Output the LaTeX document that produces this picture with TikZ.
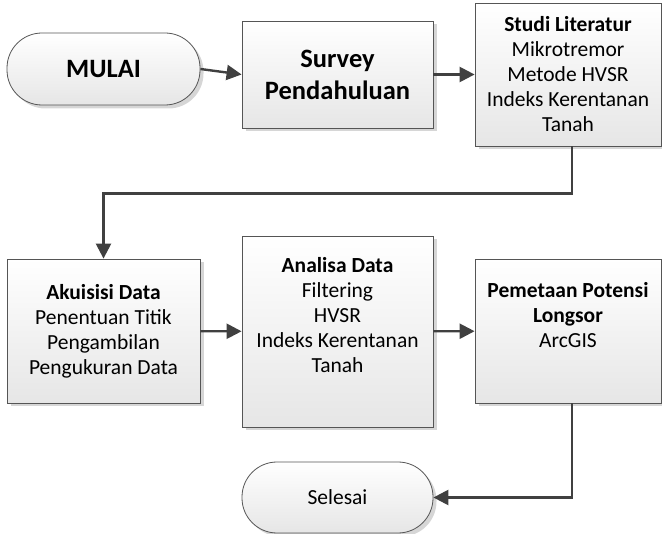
\documentclass[tikz,border=0pt]{standalone}
\usepackage{fontspec}
\setmainfont{Carlito}
\usetikzlibrary{shadows,arrows.meta}
\definecolor{boxline}{HTML}{555555}
\definecolor{boxbot}{HTML}{E6E6E6}
\definecolor{shadowc}{HTML}{D6D6D6}
\definecolor{connc}{HTML}{404040}
\begin{document}
\begin{tikzpicture}[x=1pt,y=-1pt,
  base/.style={draw=boxline, line width=0.8pt, top color=white, bottom color=boxbot,
    drop shadow={shadow xshift=3.5pt, shadow yshift=-3.5pt, fill=shadowc, opacity=1},
    align=center, inner sep=2pt, text=black, font=\fontsize{21.5}{25}\selectfont},
  box/.style={base, rectangle},
  term/.style={base, rectangle, rounded corners=35pt},
  big/.style={font=\fontsize{26.5}{32}\selectfont\bfseries},
  conn/.style={draw=connc, line width=2.4pt, -{Triangle[length=15pt,width=15pt]}}
]
\useasboundingbox (0,0) rectangle (662,534);

\node[term, big, minimum width=193pt, minimum height=72pt] (mulai) at (103.5,69) {MULAI};
\node[box, big, minimum width=191pt, minimum height=107pt] (survey) at (337.5,74.5) {Survey\\Pendahuluan};
\node[box, minimum width=186pt, minimum height=143pt] (studi) at (568,74.5)
  {\textbf{Studi Literatur}\\Mikrotremor\\Metode HVSR\\Indeks Kerentanan\\Tanah};
\node[box, minimum width=193pt, minimum height=144pt] (akuisisi) at (103.5,331)
  {\textbf{Akuisisi Data}\\Penentuan Titik\\Pengambilan\\Pengukuran Data};
\node[box, minimum width=191pt, minimum height=191pt] (analisa) at (337.5,331.5)
  {\textbf{Analisa Data}\\Filtering\\HVSR\\Indeks Kerentanan\\Tanah\\\strut};
\node[box, minimum width=186pt, minimum height=144pt] (pemetaan) at (568,331)
  {\textbf{Pemetaan Potensi}\\\textbf{Longsor}\\ArcGIS\\\strut};
\node[term, minimum width=191pt, minimum height=71pt] (selesai) at (337.5,497.5) {Selesai};

\draw[conn] (mulai.east) -- (survey.west);
\draw[conn] (survey) -- (studi);
\draw[conn] ([xshift=4pt]studi.south) -- ++(0,47) -| (akuisisi.north);
\draw[conn] (akuisisi) -- (analisa);
\draw[conn] (analisa) -- (pemetaan);
\draw[conn] ([xshift=4pt]pemetaan.south) |- (selesai.east);
\end{tikzpicture}
\end{document}
